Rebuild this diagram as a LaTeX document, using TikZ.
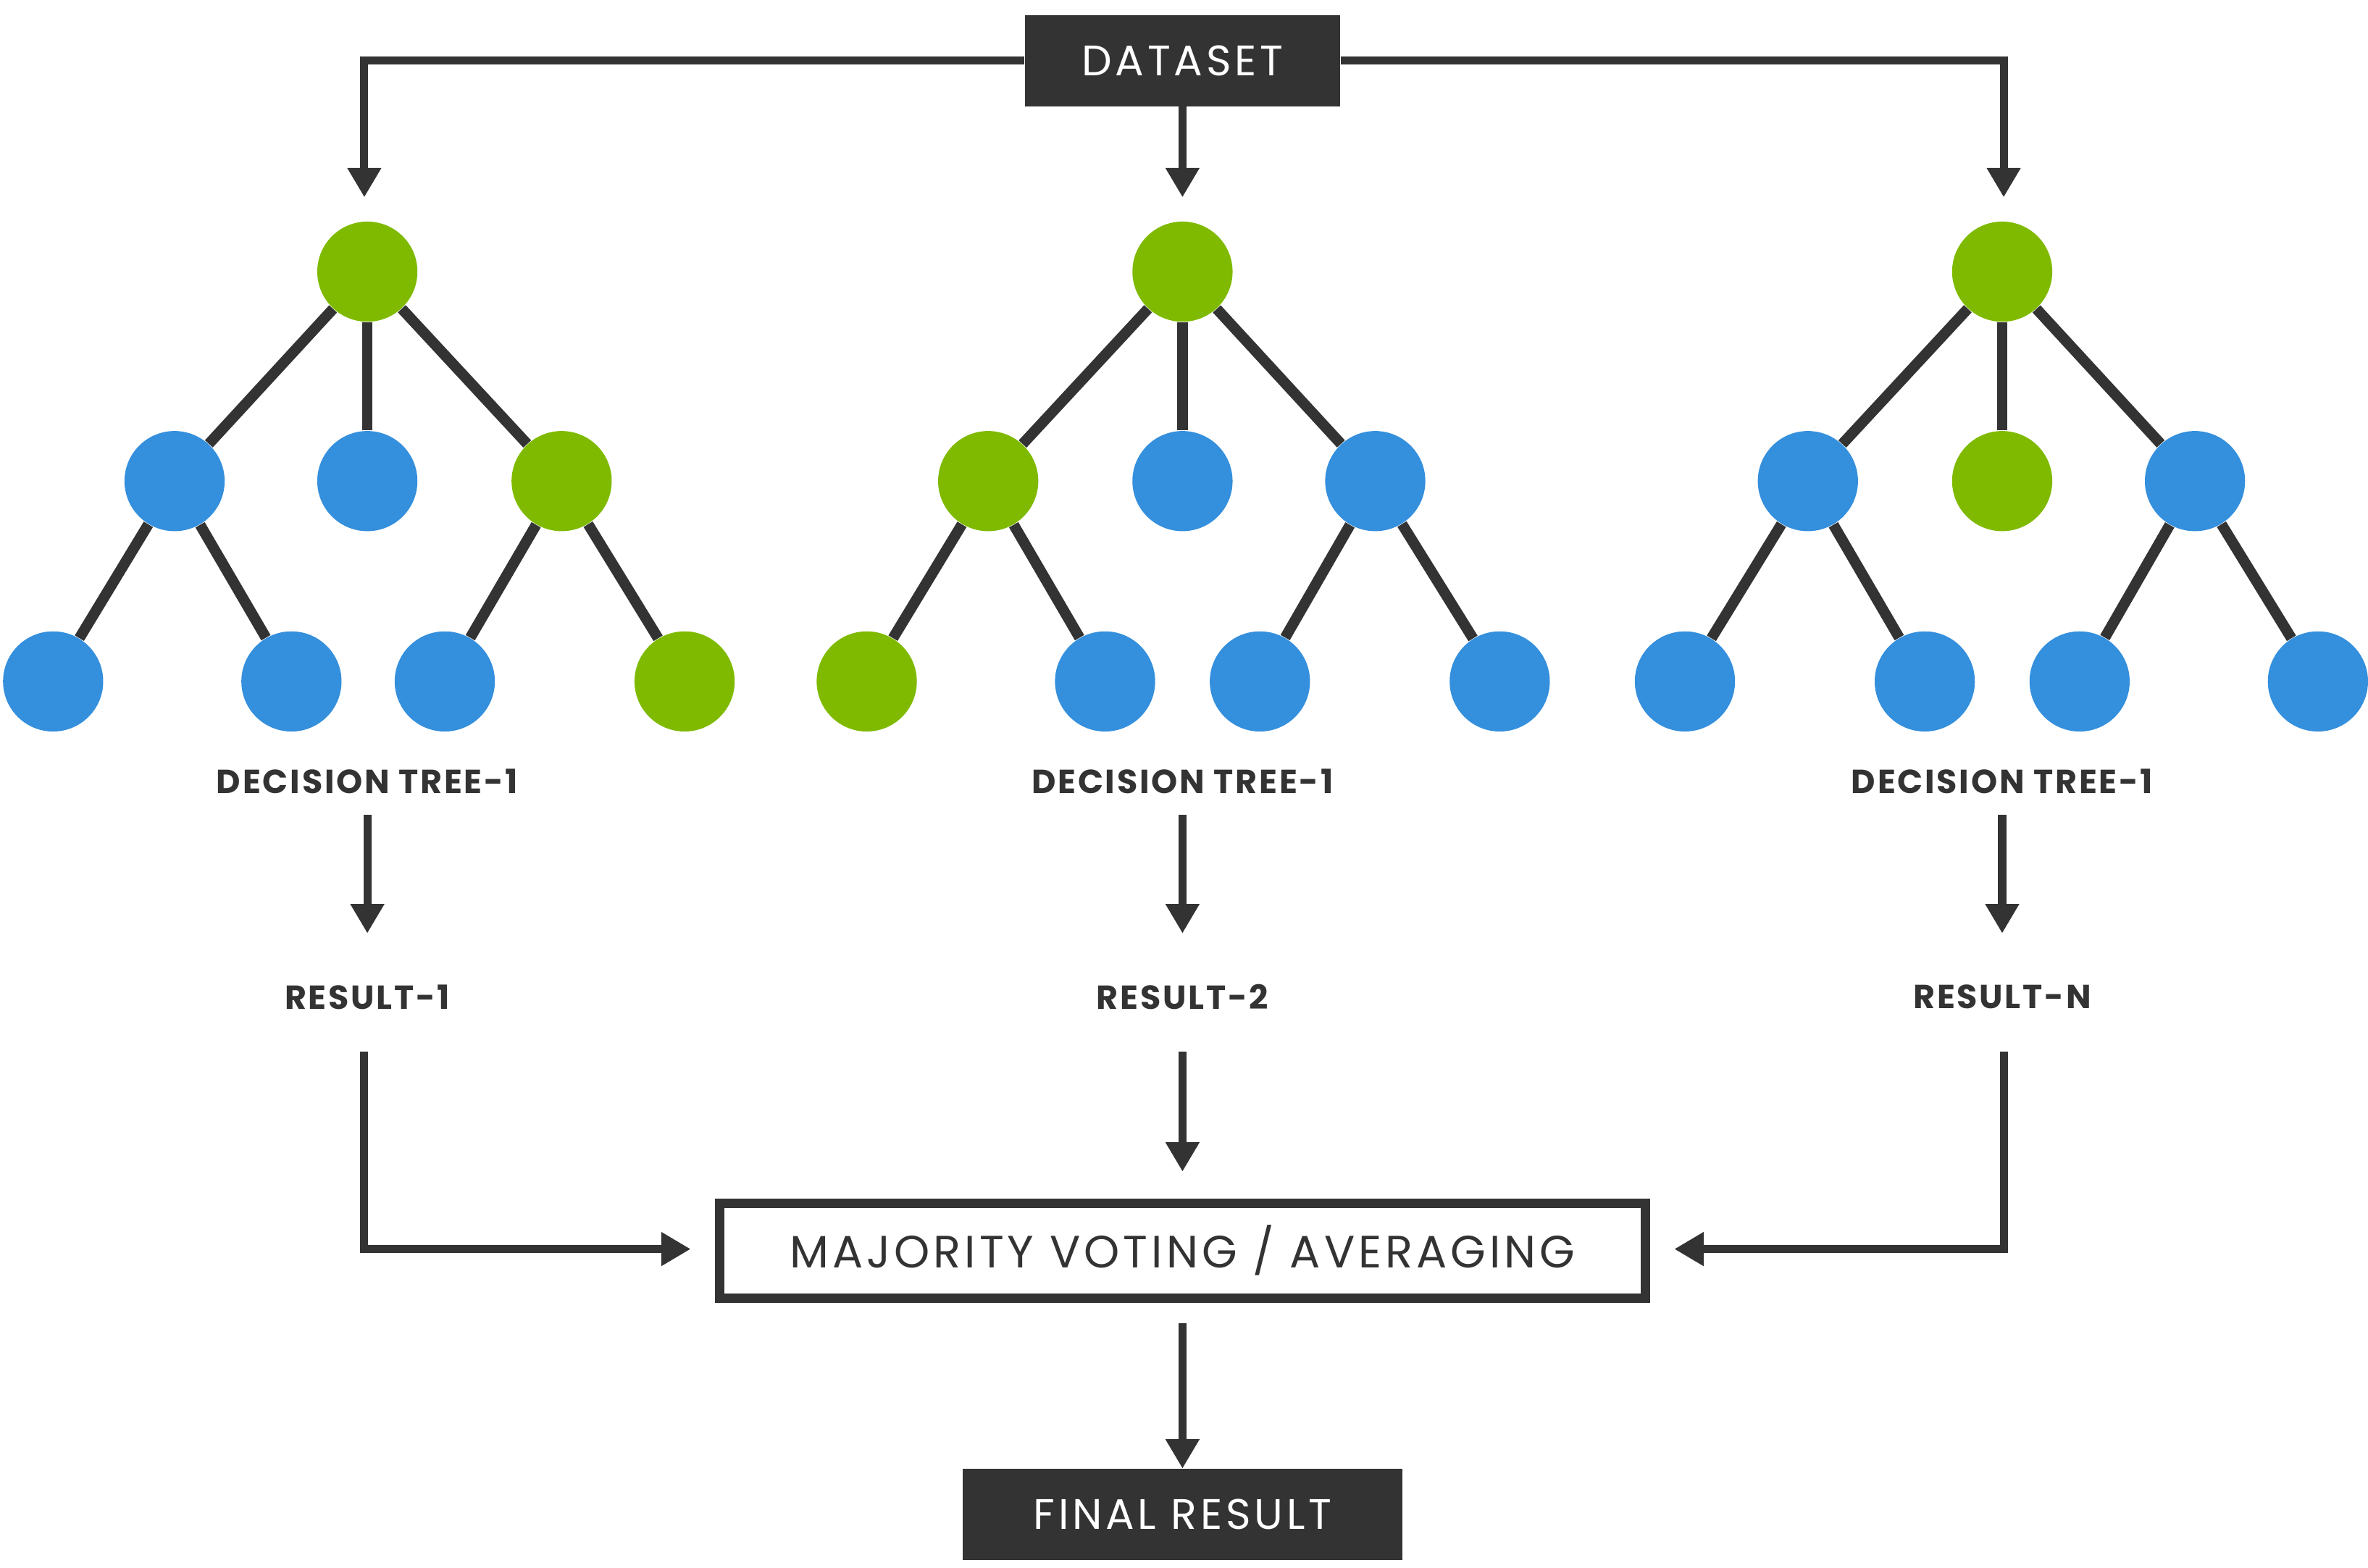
\documentclass[tikz,border=0pt]{standalone}
\usepackage{fontspec}
\setmainfont{Poppins}
\usetikzlibrary{arrows.meta}
\definecolor{gr}{HTML}{7FBA00}
\definecolor{bl}{HTML}{348FDD}
\definecolor{dk}{HTML}{333333}
\begin{document}
\begin{tikzpicture}[x=0.02cm,y=-0.02cm,
  g/.style={circle,fill=gr,minimum size=1.32cm,inner sep=0},
  b/.style={circle,fill=bl,minimum size=1.32cm,inner sep=0},
  ed/.style={draw=dk,line width=4pt},
  ar/.style={draw=dk,line width=3pt,-{Triangle[width=12pt,length=11pt]}},
  lab/.style={text=dk,font=\fontsize{12.5}{14}\selectfont\bfseries\addfontfeatures{LetterSpace=6}},
  dbox/.style={fill=dk,text=white,inner sep=0,font=\fontsize{16}{18}\selectfont\addfontfeatures{LetterSpace=8}}]
\useasboundingbox (0,0) rectangle (1560,1033);
\node[dbox,minimum width=4.16cm,minimum height=1.2cm] (ds) at (779,40) {DATASET};
\coordinate (c1) at (240,130); \coordinate (c2) at (779,130); \coordinate (c3) at (1320,130);
\draw[ar] (ds.west) -| (c1);
\draw[ar] (ds.south) -- (c2);
\draw[ar] (ds.east) -| (c3);
% tree 1
\node[g] (a0) at (242,179) {};
\node[b] (a1) at (115,317) {}; \node[b] (a2) at (242,317) {}; \node[g] (a3) at (370,317) {};
\node[b] (a4) at (35,449) {}; \node[b] (a5) at (192,449) {}; \node[b] (a6) at (293,449) {}; \node[g] (a7) at (451,449) {};
% tree 2
\node[g] (b0) at (779,179) {};
\node[g] (b1) at (651,317) {}; \node[b] (b2) at (779,317) {}; \node[b] (b3) at (906,317) {};
\node[g] (b4) at (571,449) {}; \node[b] (b5) at (728,449) {}; \node[b] (b6) at (830,449) {}; \node[b] (b7) at (988,449) {};
% tree 3
\node[g] (d0) at (1319,179) {};
\node[b] (d1) at (1191,317) {}; \node[g] (d2) at (1319,317) {}; \node[b] (d3) at (1446,317) {};
\node[b] (d4) at (1110,449) {}; \node[b] (d5) at (1268,449) {}; \node[b] (d6) at (1370,449) {}; \node[b] (d7) at (1527,449) {};
\foreach \t in {a,b,d}{
  \draw[ed] (\t0) -- (\t1); \draw[ed] (\t0) -- (\t2); \draw[ed] (\t0) -- (\t3);
  \draw[ed] (\t1) -- (\t4); \draw[ed] (\t1) -- (\t5);
  \draw[ed] (\t3) -- (\t6); \draw[ed] (\t3) -- (\t7);
}
\node[lab] (t1) at (242,515) {DECISION TREE-1};
\node[lab] (t2) at (779,515) {DECISION TREE-1};
\node[lab] (t3) at (1319,515) {DECISION TREE-1};
\node[lab] (r1) at (242,657) {RESULT-1};
\node[lab] (r2) at (779,657) {RESULT-2};
\node[lab] (r3) at (1319,657) {RESULT-N};
\coordinate (s1) at (242,537); \coordinate (e1) at (242,615);
\coordinate (s2) at (779,537); \coordinate (e2) at (779,615);
\coordinate (s3) at (1319,537); \coordinate (e3) at (1319,615);
\draw[ar] (s1) -- (e1); \draw[ar] (s2) -- (e2); \draw[ar] (s3) -- (e3);
\node[draw=dk,line width=3.5pt,fill=white,text=dk,minimum width=12.2cm,minimum height=1.25cm,inner sep=0,
  font=\fontsize{17}{19}\selectfont\addfontfeatures{LetterSpace=8}] (mv) at (779,824) {MAJORITY VOTING / AVERAGING};
\coordinate (u1) at (240,693); \coordinate (u2) at (779,693); \coordinate (u3) at (1320,693);
\coordinate (m1) at (455,823); \coordinate (m2) at (779,772); \coordinate (m3) at (1103,823);
\draw[ar] (u1) |- (m1);
\draw[ar] (u2) -- (m2);
\draw[ar] (u3) |- (m3);
\node[dbox,minimum width=5.8cm,minimum height=1.2cm] (fr) at (779,998) {FINAL RESULT};
\coordinate (v) at (779,872);
\draw[ar] (v) -- (fr.north);
\end{tikzpicture}
\end{document}
